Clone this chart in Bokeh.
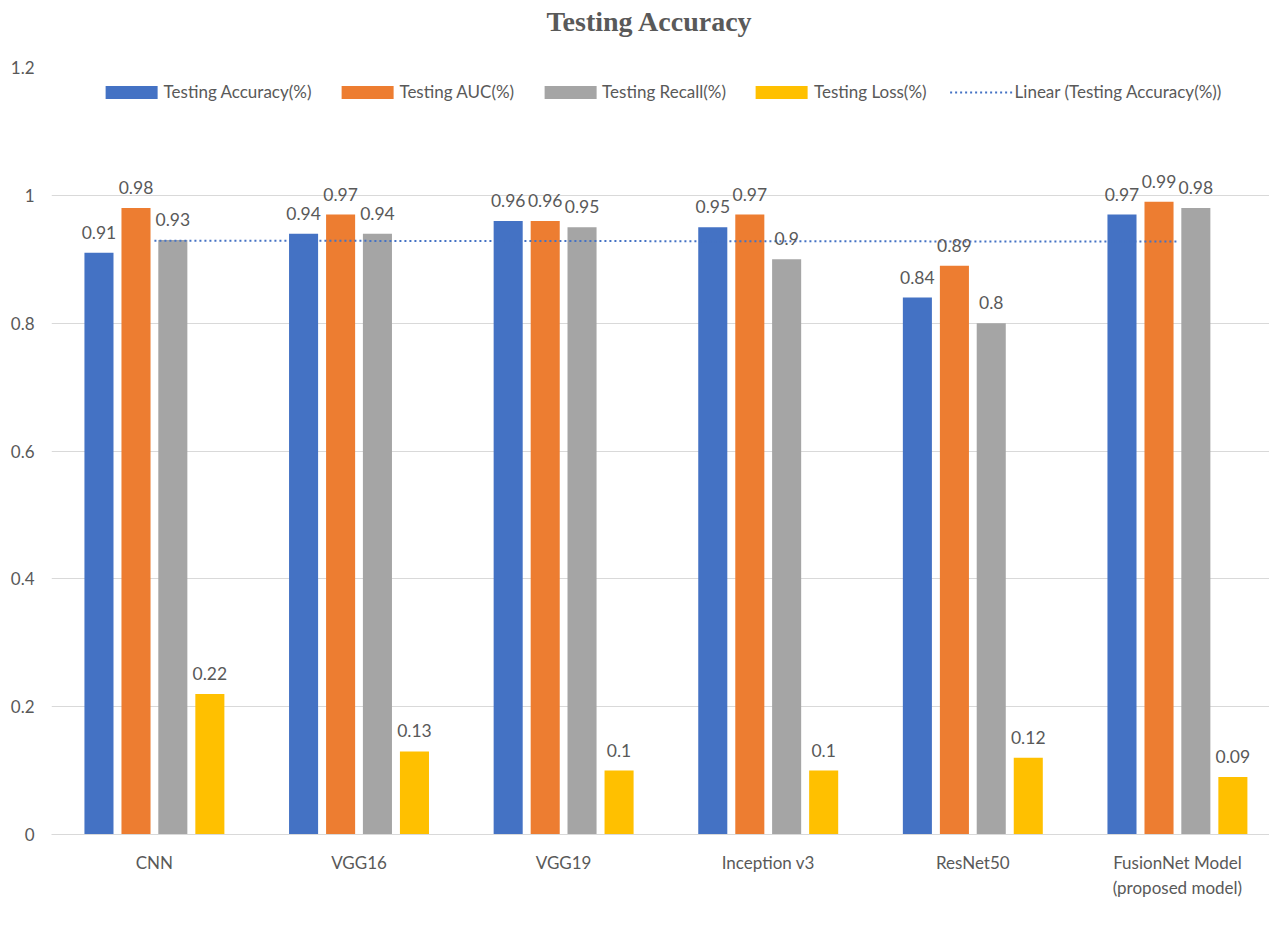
from bokeh.plotting import figure
from bokeh.models import (ColumnDataSource, LabelSet, Legend, LegendItem,
                          FixedTicker, CustomJSTickFormatter, Title)
from bokeh.core.properties import value
from bokeh.embed import file_html
from bokeh.resources import INLINE
import numpy as np

# Model names (x categories)
models = ["CNN", "VGG16", "VGG19", "Inception v3", "ResNet50",
          "FusionNet Model\n(proposed model)"]

# Metric values per model
accuracy = [0.91, 0.94, 0.96, 0.95, 0.84, 0.97]
auc = [0.98, 0.97, 0.96, 0.97, 0.89, 0.99]
recall = [0.93, 0.94, 0.95, 0.90, 0.80, 0.98]
loss = [0.22, 0.13, 0.10, 0.10, 0.12, 0.09]

series_names = ["Testing Accuracy(%)", "Testing AUC(%)",
                "Testing Recall(%)", "Testing Loss(%)"]
series_values = [accuracy, auc, recall, loss]
series_colors = ["#4472C4", "#ED7D31", "#A5A5A5", "#FFC000"]
offsets = [-0.271, -0.09, 0.09, 0.271]

y_ticks = [0, 0.2, 0.4, 0.6, 0.8, 1.0, 1.2]

TEXT = "#595959"
FONT = "Lato"

pos = np.arange(1, len(models) + 1)

p = figure(frame_width=1218, frame_height=767, output_backend="svg",
           toolbar_location=None,
           x_range=(0.497, 6.45), y_range=(0, 1.2),
           min_border_left=51, min_border_right=0,
           min_border_top=67, min_border_bottom=103)
p.outline_line_color = None
p.background_fill_color = "white"
p.border_fill_color = "white"
p.title.text = ""

# blank gap between the plot area and the chart title
p.add_layout(Title(text=" ", text_font_size="10px", standoff=18), "above")
p.add_layout(Title(text="Testing Accuracy", align="left", offset=495,
                   text_font="Liberation Serif", text_font_style="bold",
                   text_font_size="28px", text_color=TEXT, standoff=0), "above")

# grid
p.xgrid.grid_line_color = None
p.ygrid.grid_line_color = "#D9D9D9"
p.ygrid.grid_line_width = 1
p.ygrid.ticker = FixedTicker(ticks=y_ticks)

# y axis
p.yaxis.ticker = FixedTicker(ticks=y_ticks)
p.yaxis.formatter = CustomJSTickFormatter(
    code="return (Math.round(tick * 10) / 10).toString();")
p.yaxis.axis_line_color = None
p.yaxis.major_tick_line_color = None
p.yaxis.minor_tick_line_color = None
p.yaxis.major_tick_out = 0
p.yaxis.minor_tick_out = 0
p.yaxis.major_label_standoff = 17
p.yaxis.major_label_text_font = FONT
p.yaxis.major_label_text_font_size = "17px"
p.yaxis.major_label_text_color = TEXT

# x axis
p.xaxis.ticker = FixedTicker(ticks=[int(i) for i in pos])
p.xaxis.major_label_overrides = {int(i): m for i, m in zip(pos, models)}
p.xaxis.axis_line_color = "#D9D9D9"
p.xaxis.major_tick_line_color = None
p.xaxis.minor_tick_line_color = None
p.xaxis.major_tick_out = 0
p.xaxis.minor_tick_out = 0
p.xaxis.major_label_standoff = 17
p.xaxis.major_label_text_font = FONT
p.xaxis.major_label_text_font_size = "17px"
p.xaxis.major_label_text_color = TEXT

items = []
for name, vals, color, off in zip(series_names, series_values, series_colors, offsets):
    src = ColumnDataSource(dict(x=pos + off, top=vals,
                                label=[f"{v:g}" for v in vals]))
    r = p.vbar(x="x", top="top", width=0.142, source=src,
               fill_color=color, line_color=None)
    items.append(LegendItem(label=name, renderers=[r]))
    p.add_layout(LabelSet(x="x", y="top", text="label", source=src,
                          text_align="center", text_baseline="alphabetic",
                          y_offset=14, text_font=value(FONT),
                          text_font_size="17.5px", text_color=TEXT))

# linear trendline of testing accuracy
slope, intercept = np.polyfit(pos, accuracy, 1)
tx = [float(pos[0]), float(pos[-1])]
ty = [slope * x + intercept for x in tx]
tr = p.line(tx, ty, line_color="#4472C4", line_width=2, line_dash="2 3")
items.append(LegendItem(label="Linear (Testing Accuracy(%))", renderers=[tr]))

# legend row in the free band above the bars
legend = Legend(items=items, orientation="horizontal", location="top_center",
                glyph_width=65, glyph_height=16, label_standoff=0, spacing=23,
                padding=2, margin=14, border_line_color=None,
                background_fill_color="white", background_fill_alpha=1,
                label_text_font=FONT,
                label_text_font_size="17px", label_text_color=TEXT)
p.add_layout(legend)

open("out.html", "w").write(file_html(p, INLINE))
